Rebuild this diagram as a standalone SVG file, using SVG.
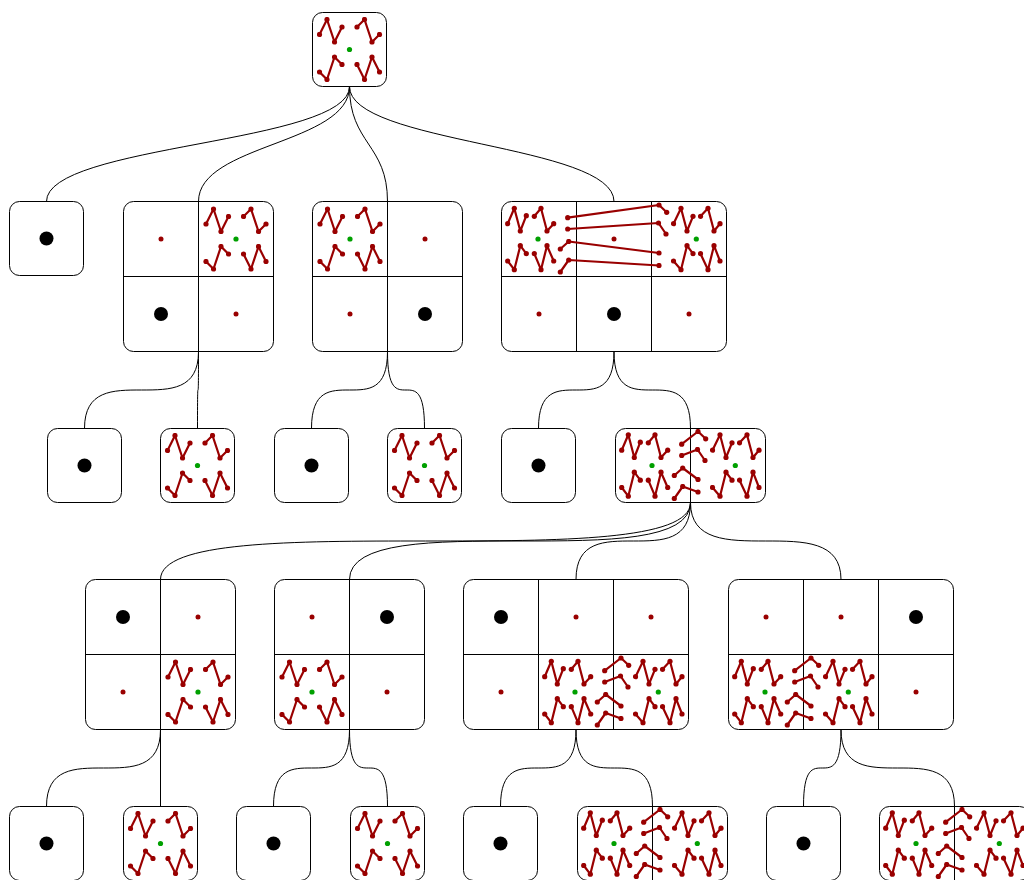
<svg xmlns="http://www.w3.org/2000/svg" width="1024" height="880" viewBox="0 0 1024 880">
<defs>
<style>
.n{fill:#fff;stroke:#000;stroke-width:1}
.v{fill:none;stroke:#000;stroke-width:1}
.c{fill:none;stroke:#000;stroke-width:1}
.z{fill:none;stroke:#990000;stroke-width:2.2;stroke-linejoin:round;marker-start:url(#d);marker-mid:url(#d);marker-end:url(#d)}
.gr{fill:#00a000}
.rd{fill:#990000}
.bk{fill:#000}
</style>
<marker id="d" viewBox="-3 -3 6 6" markerUnits="userSpaceOnUse" markerWidth="6" markerHeight="6" refX="0" refY="0"><circle r="2.6" fill="#990000"/></marker>
<g id="g">
<polyline class="z" points="-30,-15 -22.5,-30 -15,-7.5 -7.5,-22.5"/>
<polyline class="z" points="7.5,-22.5 15,-30 22.5,-7.5 30,-15"/>
<polyline class="z" points="-30,22.5 -22.5,30 -15,7.5 -7.5,15"/>
<polyline class="z" points="7.5,15 15,30 22.5,7.5 30,22.5"/>
<circle class="gr" r="2.6"/>
</g>
<g id="p">
<polyline class="z" points="-68.8,-15.3 -62.2,-30.7 -56.2,-8 -50.2,-23.3"/>
<polyline class="z" points="-42.2,-22.7 -35.5,-30.7 -29.5,-8 -22.8,-15.3"/>
<polyline class="z" points="-68.8,22 -62.2,30.7 -56.2,6.7 -50.2,14.7"/>
<polyline class="z" points="-42.2,14.7 -35.5,30.7 -29.5,6.7 -22.8,22"/>
<circle class="gr" cx="-38.5" r="2.6"/>
<polyline class="z" points="22,-15.3 29.5,-30.7 35.5,-8 41.5,-22.7"/>
<polyline class="z" points="49,-22.7 56.5,-30.7 62.5,-8 68.5,-15.3"/>
<polyline class="z" points="22,22 29.5,30.7 35.5,6.7 41.5,14.7"/>
<polyline class="z" points="49,14.7 56.5,30.7 62.5,6.7 68.5,22"/>
<circle class="gr" cx="44.8" r="2.6"/>
<polyline class="z" points="-8.8,-21.3 7.5,-34 15.2,-26.7"/>
<polyline class="z" points="-8.8,-10 7,-16 14.5,-5"/>
<polyline class="z" points="-16.2,10 -7.8,2.5 7.5,14"/>
<polyline class="z" points="-16.2,33 -7.8,21 7.5,26.5"/>
</g>
<g id="w">
<polyline class="z" points="-106.3,-15.3 -99.7,-30.7 -93.7,-8 -87.7,-23.3"/>
<polyline class="z" points="-79.7,-22.7 -73,-30.7 -67,-8 -60.3,-15.3"/>
<polyline class="z" points="-106.3,22 -99.7,30.7 -93.7,6.7 -87.7,14.7"/>
<polyline class="z" points="-79.7,14.7 -73,30.7 -67,6.7 -60.3,22"/>
<circle class="gr" cx="-76" r="2.6"/>
<polyline class="z" points="59.5,-15.3 67,-30.7 73,-8 79,-22.7"/>
<polyline class="z" points="86.5,-22.7 94,-30.7 100,-8 106,-15.3"/>
<polyline class="z" points="59.5,22 67,30.7 73,6.7 79,14.7"/>
<polyline class="z" points="86.5,14.7 94,30.7 100,6.7 106,22"/>
<circle class="gr" cx="82.3" r="2.6"/>
<polyline class="z" points="-46.3,-21.3 45,-34 52.7,-26.7"/>
<polyline class="z" points="-46.3,-10 44.5,-16 52,-5"/>
<polyline class="z" points="-53.7,10 -45.3,2.5 45,14"/>
<polyline class="z" points="-53.7,33 -45.3,21 45,26.5"/>
</g>
</defs>
<rect width="1024" height="880" fill="#fff"/>
<g id="connectors">
<path class="c" d="M349.5,86.5 C349.5,144 46.5,144 46.5,201.5"/>
<path class="c" d="M349.5,86.5 C349.5,144 198.5,144 198.5,201.5"/>
<path class="c" d="M349.5,86.5 C349.5,144 387.5,144 387.5,201.5"/>
<path class="c" d="M349.5,86.5 C349.5,144 614,144 614,201.5"/>
<path class="c" d="M198.5,351.5 C198.5,428.5 84.5,351.5 84.5,428.5"/>
<path class="c" d="M198.5,351.5 C198.5,428.5 197.5,351.5 197.5,428.5"/>
<path class="c" d="M387.5,351.5 C387.5,428.5 311.5,351.5 311.5,428.5"/>
<path class="c" d="M387.5,351.5 C387.5,428.5 424.5,351.5 424.5,428.5"/>
<path class="c" d="M614,351.5 C614,428.5 538.5,351.5 538.5,428.5"/>
<path class="c" d="M614,351.5 C614,428.5 690.5,351.5 690.5,428.5"/>
<path class="c" d="M690.5,502.5 C690.5,579.5 160.5,502.5 160.5,579.5"/>
<path class="c" d="M690.5,502.5 C690.5,579.5 349.5,502.5 349.5,579.5"/>
<path class="c" d="M690.5,502.5 C690.5,579.5 576,502.5 576,579.5"/>
<path class="c" d="M690.5,502.5 C690.5,579.5 841,502.5 841,579.5"/>
<path class="c" d="M160.5,729.5 C160.5,806.5 46.5,729.5 46.5,806.5"/>
<path class="c" d="M160.5,729.5 L160.5,806.5"/>
<path class="c" d="M349.5,729.5 C349.5,806.5 273.5,729.5 273.5,806.5"/>
<path class="c" d="M349.5,729.5 C349.5,806.5 387.5,729.5 387.5,806.5"/>
<path class="c" d="M576,729.5 C576,806.5 500.5,729.5 500.5,806.5"/>
<path class="c" d="M576,729.5 C576,806.5 652.5,729.5 652.5,806.5"/>
<path class="c" d="M841,729.5 C841,806.5 803.5,729.5 803.5,806.5"/>
<path class="c" d="M841,729.5 C841,806.5 954.5,729.5 954.5,806.5"/>
</g>
<g id="root"><rect class="n" x="312.5" y="12.5" width="74" height="74" rx="10"/><use href="#g" transform="translate(349.5,49.5)"/></g>
<g id="n1"><rect class="n" x="9.5" y="201.5" width="74" height="74" rx="10"/><circle class="bk" cx="46.5" cy="238.5" r="7"/></g>
<g id="n2"><rect class="n" x="123.5" y="201.5" width="150" height="150" rx="10"/><path class="v" d="M198.5,201.5V351.5M123.5,276.5H273.5"/>
<circle class="rd" cx="161" cy="239" r="2.5"/><use href="#g" transform="translate(236,239)"/><circle class="bk" cx="161" cy="314" r="7"/><circle class="rd" cx="236" cy="314" r="2.5"/></g>
<g id="n3"><rect class="n" x="312.5" y="201.5" width="150" height="150" rx="10"/><path class="v" d="M387.5,201.5V351.5M312.5,276.5H462.5"/>
<use href="#g" transform="translate(350,239)"/><circle class="rd" cx="425" cy="239" r="2.5"/><circle class="rd" cx="350" cy="314" r="2.5"/><circle class="bk" cx="425" cy="314" r="7"/></g>
<g id="n4"><rect class="n" x="501.5" y="201.5" width="225" height="150" rx="10"/><path class="v" d="M576.5,201.5V351.5M651.5,201.5V351.5M501.5,276.5H726.5"/>
<circle class="rd" cx="614" cy="239" r="2.5"/><use href="#w" transform="translate(614,239)"/>
<circle class="rd" cx="539" cy="314" r="2.5"/><circle class="bk" cx="614" cy="314" r="7"/><circle class="rd" cx="689" cy="314" r="2.5"/></g>
<g id="m1"><rect class="n" x="47.5" y="428.5" width="74" height="74" rx="10"/><circle class="bk" cx="84.5" cy="465.5" r="7"/></g>
<g id="m2"><rect class="n" x="160.5" y="428.5" width="74" height="74" rx="10"/><use href="#g" transform="translate(197.5,465.5)"/></g>
<g id="m3"><rect class="n" x="274.5" y="428.5" width="74" height="74" rx="10"/><circle class="bk" cx="311.5" cy="465.5" r="7"/></g>
<g id="m4"><rect class="n" x="387.5" y="428.5" width="74" height="74" rx="10"/><use href="#g" transform="translate(424.5,465.5)"/></g>
<g id="m5"><rect class="n" x="501.5" y="428.5" width="74" height="74" rx="10"/><circle class="bk" cx="538.5" cy="465.5" r="7"/></g>
<g id="m6"><rect class="n" x="615.5" y="428.5" width="150" height="74" rx="10"/><path class="v" d="M690.5,428.5V502.5"/><use href="#p" transform="translate(690.5,465.5)"/></g>
<g id="k1"><rect class="n" x="85.5" y="579.5" width="150" height="150" rx="10"/><path class="v" d="M160.5,579.5V729.5M85.5,654.5H235.5"/>
<circle class="bk" cx="123" cy="617" r="7"/><circle class="rd" cx="198" cy="617" r="2.5"/><circle class="rd" cx="123" cy="692" r="2.5"/><use href="#g" transform="translate(198,692)"/></g>
<g id="k2"><rect class="n" x="274.5" y="579.5" width="150" height="150" rx="10"/><path class="v" d="M349.5,579.5V729.5M274.5,654.5H424.5"/>
<circle class="rd" cx="312" cy="617" r="2.5"/><circle class="bk" cx="387" cy="617" r="7"/><use href="#g" transform="translate(312,692)"/><circle class="rd" cx="387" cy="692" r="2.5"/></g>
<g id="k3"><rect class="n" x="463.5" y="579.5" width="225" height="150" rx="10"/><path class="v" d="M538.5,579.5V729.5M613.5,579.5V729.5M463.5,654.5H688.5"/>
<circle class="bk" cx="501" cy="617" r="7"/><circle class="rd" cx="576" cy="617" r="2.5"/><circle class="rd" cx="651" cy="617" r="2.5"/><circle class="rd" cx="501" cy="692" r="2.5"/><use href="#p" transform="translate(613.5,692)"/></g>
<g id="k4"><rect class="n" x="728.5" y="579.5" width="225" height="150" rx="10"/><path class="v" d="M803.5,579.5V729.5M878.5,579.5V729.5M728.5,654.5H953.5"/>
<circle class="rd" cx="766" cy="617" r="2.5"/><circle class="rd" cx="841" cy="617" r="2.5"/><circle class="bk" cx="916" cy="617" r="7"/><use href="#p" transform="translate(803.5,692)"/><circle class="rd" cx="916" cy="692" r="2.5"/></g>
<g id="q1"><rect class="n" x="9.5" y="806.5" width="74" height="74" rx="10"/><circle class="bk" cx="46.5" cy="843.5" r="7"/></g>
<g id="q2"><rect class="n" x="123.5" y="806.5" width="74" height="74" rx="10"/><use href="#g" transform="translate(160.5,843.5)"/></g>
<g id="q3"><rect class="n" x="236.5" y="806.5" width="74" height="74" rx="10"/><circle class="bk" cx="273.5" cy="843.5" r="7"/></g>
<g id="q4"><rect class="n" x="350.5" y="806.5" width="74" height="74" rx="10"/><use href="#g" transform="translate(387.5,843.5)"/></g>
<g id="q5"><rect class="n" x="463.5" y="806.5" width="74" height="74" rx="10"/><circle class="bk" cx="500.5" cy="843.5" r="7"/></g>
<g id="q6"><rect class="n" x="577.5" y="806.5" width="150" height="74" rx="10"/><path class="v" d="M652.5,806.5V880.5"/><use href="#p" transform="translate(652.5,843.5)"/></g>
<g id="q7"><rect class="n" x="766.5" y="806.5" width="74" height="74" rx="10"/><circle class="bk" cx="803.5" cy="843.5" r="7"/></g>
<g id="q8"><rect class="n" x="879.5" y="806.5" width="150" height="74" rx="10"/><path class="v" d="M954.5,806.5V880.5"/><use href="#p" transform="translate(954.5,843.5)"/></g>
</svg>
